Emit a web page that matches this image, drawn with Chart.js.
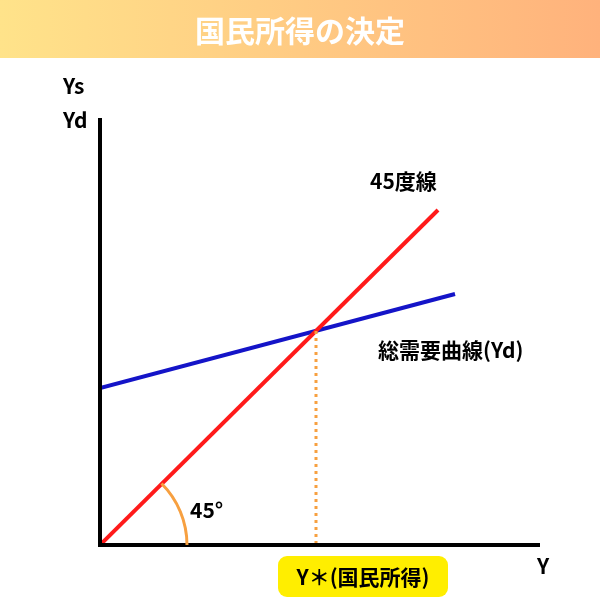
<!DOCTYPE html>
<html><head><meta charset="utf-8">
<script src="https://cdn.jsdelivr.net/npm/chart.js@4"></script>
<style>html,body{margin:0;padding:0;background:#fff}canvas{display:block}</style>
</head><body>
<canvas id="c" width="600" height="600"></canvas>
<script>
const title = "国民所得の決定";
const line45 = [{x:0,y:0},{x:338,y:335}];
const demand = [{x:0,y:157},{x:355,y:251}];
const equilibrium = {x:216,y:214};
const F = '"Noto Sans CJK JP","Noto Sans",sans-serif';

const deco = {
  id:'deco',
  beforeDraw(ch){
    const c=ch.ctx;
    c.save();
    const g=c.createLinearGradient(0,0,600,0);
    g.addColorStop(0,'#FFE38A');g.addColorStop(1,'#FFB27C');
    c.fillStyle=g;c.fillRect(0,0,600,58);
    c.fillStyle='#fff';c.font='bold 30px '+F;c.textAlign='center';c.textBaseline='middle';
    c.fillText(title,300,31);
    c.restore();
  },
  afterDatasetsDraw(ch){
    const c=ch.ctx,xs=ch.scales.x,ys=ch.scales.y;
    const ox=xs.getPixelForValue(0),oy=ys.getPixelForValue(0);
    c.save();
    // axes
    c.strokeStyle='#000';c.lineWidth=4;c.lineCap='butt';
    c.beginPath();c.moveTo(ox,118);c.lineTo(ox,oy);c.lineTo(540,oy);c.stroke();
    // dotted
    const ex=xs.getPixelForValue(equilibrium.x),ey=ys.getPixelForValue(equilibrium.y);
    c.strokeStyle='#F7A040';c.lineWidth=3;c.setLineDash([3,4]);
    c.beginPath();c.moveTo(ex,ey);c.lineTo(ex,oy-2);c.stroke();c.setLineDash([]);
    // arc
    c.lineWidth=3;c.beginPath();c.arc(ox,oy,87,-Math.PI/4,0);c.stroke();
    // labels
    c.fillStyle='#000';c.font='bold 21px '+F;c.textBaseline='middle';c.textAlign='left';
    c.fillText('Ys',63,86);c.fillText('Yd',63,120);
    c.fillText('45度線',370,181);
    c.fillText('総需要曲線(Yd)',378,350);
    c.fillText('45°',190,510);
    c.fillText('Y',537,566);
    // highlight
    c.fillStyle='#FFEE00';
    c.beginPath();c.roundRect(278,556,170,41,9);c.fill();
    c.fillStyle='#000';c.textAlign='center';
    c.fillText('Y＊(国民所得)',363,577);
    c.restore();
  }
};

new Chart(document.getElementById('c'),{
  type:'scatter',
  data:{datasets:[
    {data:line45,showLine:true,borderColor:'#FF1A1A',borderWidth:4,pointRadius:0},
    {data:demand,showLine:true,borderColor:'#1414C8',borderWidth:4,pointRadius:0}
  ]},
  options:{responsive:false,animation:false,
    layout:{padding:{left:100,right:70,top:120,bottom:55}},
    plugins:{legend:{display:false},tooltip:{enabled:false}},
    scales:{x:{display:false,min:0,max:430},y:{display:false,min:0,max:425}}
  },
  plugins:[deco]
});
</script>
</body></html>
